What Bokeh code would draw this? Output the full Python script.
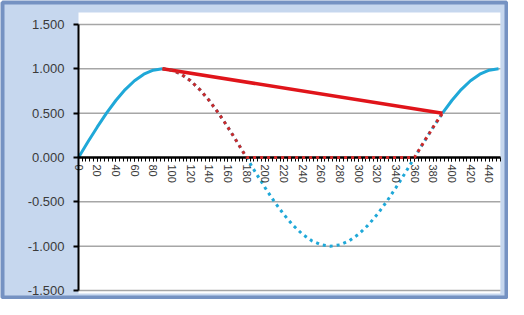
from bokeh.plotting import figure
from bokeh.models import FixedTicker, NumeralTickFormatter, Range1d
from bokeh.embed import file_html
from bokeh.resources import INLINE

# ---- data ----
degrees = [0, 10, 20, 30, 40, 50, 60, 70, 80, 90, 100, 110, 120, 130, 140, 150, 160, 170, 180,
           190, 200, 210, 220, 230, 240, 250, 260, 270, 280, 290, 300, 310, 320, 330, 340, 350, 360,
           370, 380, 390, 400, 410, 420, 430, 440, 450]
sine = [0.000, 0.174, 0.342, 0.500, 0.643, 0.766, 0.866, 0.940, 0.985, 1.000, 0.985, 0.940, 0.866,
        0.766, 0.643, 0.500, 0.342, 0.174, 0.000, -0.174, -0.342, -0.500, -0.643, -0.766, -0.866,
        -0.940, -0.985, -1.000, -0.985, -0.940, -0.866, -0.766, -0.643, -0.500, -0.342, -0.174,
        0.000, 0.174, 0.342, 0.500, 0.643, 0.766, 0.866, 0.940, 0.985, 1.000]
clipped_deg = [90, 100, 110, 120, 130, 140, 150, 160, 170, 180, 360, 370, 380, 390]
clipped_val = [1.000, 0.985, 0.940, 0.866, 0.766, 0.643, 0.500, 0.342, 0.174, 0.000, 0.000, 0.174, 0.342, 0.500]
chord_deg = [90, 390]
chord_val = [1.000, 0.500]
x_tick_labels = list(range(0, 441, 20))
y_ticks = [-1.5, -1.0, -0.5, 0.0, 0.5, 1.0, 1.5]
grid_values = [-1.5, -1.0, -0.5, 0.5, 1.0, 1.5]
x_last = 452                # right end of the category axis
y_area = (-1.534, 1.635)    # white plot-area extent

BLUE = "#1fa8d8"
RED = "#e0141a"
DRED = "#cc2a2a"
LIGHT = "#c6d7ee"
DARK = "#7592c2"

W, H = 508, 299
p = figure(width=W, height=H, output_backend="svg", toolbar_location=None,
           x_range=Range1d(-81.43, 458.57), y_range=Range1d(-1.5789, 1.7481),
           min_border_left=2, min_border_right=2, min_border_top=2, min_border_bottom=2)
p.border_fill_color = "white"
p.background_fill_color = LIGHT
p.outline_line_color = DARK
p.outline_line_width = 4
p.xgrid.visible = False
p.ygrid.visible = False

# white plot area
p.quad(left=[0], right=[x_last], bottom=[y_area[0]], top=[y_area[1]],
       fill_color="white", line_color=None)
# horizontal gridlines
p.segment(x0=[0] * len(grid_values), x1=[x_last] * len(grid_values), y0=grid_values, y1=grid_values,
          line_color="#a6a6a6", line_width=1.5)

# y axis (at x = 0)
ya = p.yaxis[0]
ya.fixed_location = 0
ya.ticker = FixedTicker(ticks=y_ticks)
ya.formatter = NumeralTickFormatter(format="0.000")
ya.bounds = (-1.5, 1.5)
ya.axis_line_color = "black"
ya.axis_line_width = 2
ya.major_tick_line_color = "black"
ya.major_tick_line_width = 2
ya.major_tick_out = 5
ya.major_tick_in = 0
ya.minor_tick_line_color = None
ya.major_label_standoff = 9
ya.major_label_text_font = "Liberation Sans"
ya.major_label_text_font_size = "13px"
ya.major_label_text_color = "#3a3a3a"

# x axis (at y = 0)
xa = p.xaxis[0]
xa.fixed_location = 0
xa.bounds = (0, x_last)
xa.ticker = FixedTicker(ticks=x_tick_labels, minor_ticks=list(range(0, x_last + 1, 4)))
xa.axis_line_color = "black"
xa.axis_line_width = 2.5
xa.major_tick_line_color = "black"
xa.minor_tick_line_color = "black"
xa.major_tick_line_width = 1
xa.minor_tick_line_width = 1
xa.major_tick_out = 4
xa.major_tick_in = 0
xa.minor_tick_out = 4
xa.minor_tick_in = 0
xa.major_label_orientation = "vertical"
xa.major_label_standoff = 3
xa.major_label_text_font = "Liberation Sans"
xa.major_label_text_font_size = "11px"
xa.major_label_text_color = "#3a3a3a"

# blue sine: solid / dotted / solid
p.line(degrees[0:10], sine[0:10], line_color=BLUE, line_width=3)
p.line(degrees[9:40], sine[9:40], line_color=BLUE, line_width=3, line_dash="3 4")
p.line(degrees[39:], sine[39:], line_color=BLUE, line_width=3)
# red dotted (positive part), drawn above the axis
rd = p.line(clipped_deg, clipped_val, line_color=DRED, line_width=3, line_dash="3 4")
rd.level = "overlay"
# red chord
p.line(chord_deg, chord_val, line_color=RED, line_width=3.5)

open("out.html", "w").write(file_html(p, INLINE))
